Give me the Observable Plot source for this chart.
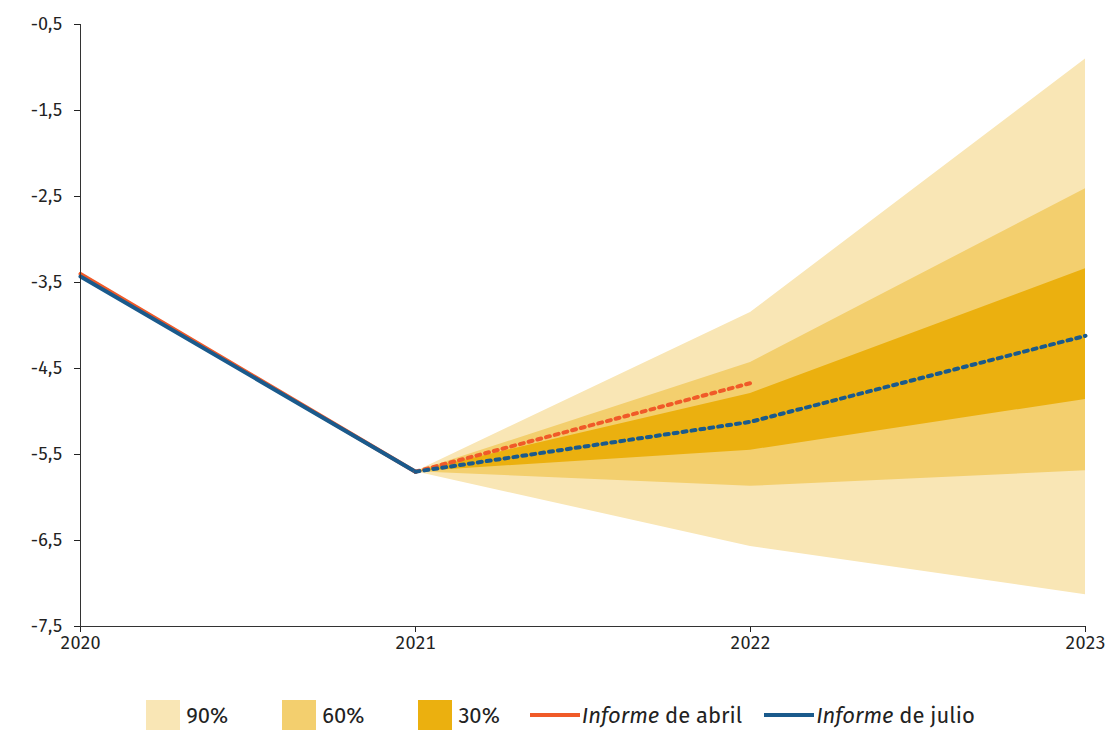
<!DOCTYPE html>
<html lang="es">
<head>
<meta charset="UTF-8">
<title>Fan chart</title>
<style>
  body { margin: 0; background: #fff; font-family: "Fira Sans", "Noto Sans", sans-serif; }
  #chart { width: 1107px; }
  .legend { display: flex; justify-content: center; align-items: center; font-size: 22px; color: #222; margin-top: 30px; margin-left: 14px; }
  .item { display: flex; align-items: center; margin-right: 54px; }
  .sw { width: 34px; height: 30px; margin-right: 6px; }
  .ln { width: 50px; height: 4px; margin-right: 2px; }
</style>
<script src="https://cdn.jsdelivr.net/npm/d3@7"></script>
<script src="https://cdn.jsdelivr.net/npm/@observablehq/plot@0.6"></script>
</head>
<body>
<div id="chart"></div>
<div class="legend">
  <div class="item"><div class="sw" style="background:#f9e6b5"></div>90%</div>
  <div class="item"><div class="sw" style="background:#f3cf6e"></div>60%</div>
  <div class="item" style="margin-right:30px"><div class="sw" style="background:#ebb00f"></div>30%</div>
  <div class="item" style="margin-right:22px"><div class="ln" style="background:#f05a28"></div><i>Informe</i>&nbsp;de abril</div>
  <div class="item" style="margin-right:0"><div class="ln" style="background:#1a5a8c"></div><i>Informe</i>&nbsp;de julio</div>
</div>
<script>
// Years and series
const years = [2020, 2021, 2022, 2023];
const abril = [-3.4, -5.7, -4.67];
const julio = [-3.43, -5.7, -5.12, -4.12];

// Fan bands from 2021 onward
const bandYears = [2021, 2022, 2023];
const lo90 = [-5.7, -6.57, -7.13], hi90 = [-5.7, -3.85, -0.9];
const lo60 = [-5.7, -5.87, -5.69], hi60 = [-5.7, -4.43, -2.41];
const lo30 = [-5.7, -5.45, -4.86], hi30 = [-5.7, -4.79, -3.34];

const yTicks = [-0.5, -1.5, -2.5, -3.5, -4.5, -5.5, -6.5, -7.5];

const band = (lo, hi) => bandYears.map((x, i) => ({x, lo: lo[i], hi: hi[i]}));
const line = (vals) => vals.map((v, i) => ({x: years[i], y: v}));
const solid = (vals) => line(vals).slice(0, 2);
const dotted = (vals) => line(vals).slice(1);

const fmt = d => d3.format(".1f")(d).replace(".", ",").replace("−", "-");

const plot = Plot.plot({
  width: 1107, height: 670,
  marginLeft: 80, marginRight: 22, marginTop: 24, marginBottom: 44,
  style: {fontSize: "18px", fontFamily: "'Fira Sans', 'Noto Sans', sans-serif", color: "#222"},
  x: {domain: [2020, 2023], ticks: years, tickFormat: d => String(d), label: null, tickSize: 6, tickPadding: 4},
  y: {domain: [-7.5, -0.5], ticks: yTicks, tickFormat: fmt, label: null, tickSize: 6, tickPadding: 12},
  marks: [
    Plot.areaY(band(lo90, hi90), {x: "x", y1: "lo", y2: "hi", fill: "#f9e6b5"}),
    Plot.areaY(band(lo60, hi60), {x: "x", y1: "lo", y2: "hi", fill: "#f3cf6e"}),
    Plot.areaY(band(lo30, hi30), {x: "x", y1: "lo", y2: "hi", fill: "#ebb00f"}),
    Plot.line(solid(abril), {x: "x", y: "y", stroke: "#f05a28", strokeWidth: 4}),
    Plot.line(solid(julio), {x: "x", y: "y", stroke: "#1a5a8c", strokeWidth: 4}),
    Plot.line(dotted(abril), {x: "x", y: "y", stroke: "#f05a28", strokeWidth: 4, strokeDasharray: "4,5"}),
    Plot.line(dotted(julio), {x: "x", y: "y", stroke: "#1a5a8c", strokeWidth: 4, strokeDasharray: "4,5"}),
    Plot.ruleX([2020], {stroke: "#333"}),
    Plot.ruleY([-7.5], {stroke: "#333"})
  ]
});
document.getElementById("chart").appendChild(plot);
</script>
</body>
</html>
